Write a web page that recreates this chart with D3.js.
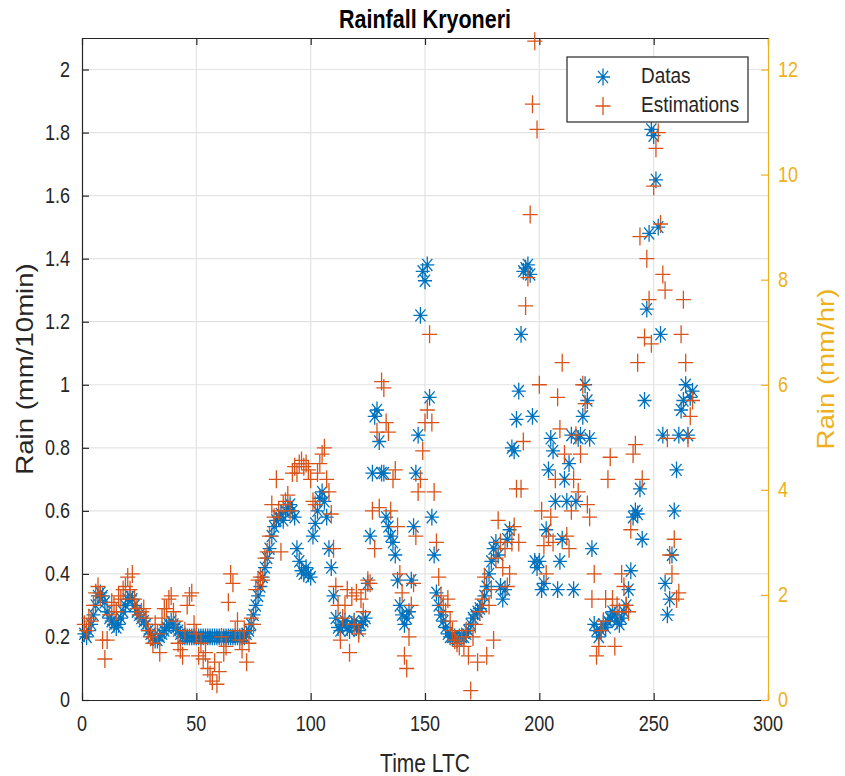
<!DOCTYPE html>
<html lang="en">
<head>
<meta charset="utf-8">
<title>Rainfall Kryoneri</title>
<script src="https://d3js.org/d3.v7.min.js"></script>
<style>
  body { margin: 0; background: #fff; }
  text { font-family: "Liberation Sans", Arial, sans-serif; fill: #262626; }
</style>
</head>
<body>
<script>
// time steps start at 1, one value per step
var firstStep = 1;

// Datas (mm/10min)
var datas = [
  0.21,0.20,0.22,0.24,0.27,0.30,0.33,0.34,0.33,0.31,
  0.28,0.26,0.25,0.24,0.23,0.24,0.26,0.28,0.30,0.32,
  0.33,0.32,0.30,0.28,0.27,0.26,0.25,0.24,0.22,0.21,
  0.20,0.19,0.19,0.20,0.21,0.22,0.23,0.24,0.25,0.24,
  0.23,0.22,0.21,0.20,0.20,0.20,0.20,0.20,0.20,0.20,
  0.20,0.20,0.20,0.20,0.20,0.20,0.20,0.20,0.20,0.20,
  0.20,0.20,0.20,0.20,0.20,0.20,0.20,0.20,0.20,0.20,
  0.20,0.21,0.22,0.24,0.27,0.30,0.33,0.36,0.39,0.42,
  0.45,0.48,0.52,0.55,0.57,0.58,0.59,0.57,0.60,0.61,
  0.62,0.60,0.58,0.48,0.44,0.41,0.40,0.42,0.40,0.39,
  0.52,0.56,0.60,0.64,0.66,0.63,0.58,0.48,0.42,0.33,
  0.26,0.23,0.22,0.24,0.25,0.23,0.22,0.24,0.25,0.23,
  0.22,0.24,0.25,0.26,0.37,0.52,0.72,0.90,0.92,0.82,
  0.72,0.72,0.58,0.55,0.52,0.50,0.46,0.38,0.30,0.27,
  0.24,0.26,0.28,0.38,0.55,0.72,0.84,1.22,1.36,1.33,
  1.38,0.96,0.58,0.46,0.34,0.30,0.27,0.25,0.23,0.21,
  0.20,0.20,0.20,0.19,0.20,0.20,0.20,0.21,0.22,0.24,
  0.26,0.27,0.28,0.29,0.30,0.33,0.36,0.40,0.44,0.48,
  0.50,0.46,0.36,0.32,0.35,0.51,0.54,0.80,0.79,0.89,
  0.98,1.16,1.36,1.37,1.38,1.35,0.90,0.44,0.42,0.44,
  0.35,0.37,0.54,0.73,0.83,0.79,0.63,0.35,0.44,0.51,
  0.70,0.63,0.75,0.84,0.35,0.63,0.83,0.84,0.90,1.00,
  0.95,0.83,0.48,0.24,0.22,0.20,0.22,0.24,0.23,0.25,
  0.26,0.28,0.27,0.25,0.24,0.26,0.28,0.30,0.35,0.41,
  0.58,0.60,0.59,0.67,0.51,0.95,1.24,1.48,1.81,1.79,
  1.65,1.50,1.16,0.84,0.37,0.27,0.32,0.46,0.60,0.73,
  0.84,0.92,0.95,1.00,0.84,0.96,0.98
];

// Estimations (mm/10min)
var estimations = [
  0.24,0.22,0.26,0.25,0.30,0.34,0.36,0.33,0.19,0.13,
  0.19,0.27,0.31,0.30,0.28,0.33,0.32,0.35,0.36,0.39,
  0.35,0.40,0.32,0.29,0.27,0.28,0.29,0.26,0.22,0.20,
  0.18,0.24,0.21,0.15,0.26,0.29,0.29,0.32,0.33,0.28,
  0.25,0.18,0.16,0.14,0.22,0.30,0.33,0.34,0.24,0.21,
  0.14,0.18,0.13,0.15,0.10,0.08,0.06,0.12,0.05,0.09,
  0.20,0.15,0.17,0.31,0.40,0.37,0.22,0.25,0.19,0.16,
  0.22,0.12,0.18,0.26,0.24,0.35,0.38,0.39,0.38,0.45,
  0.47,0.52,0.62,0.58,0.70,0.60,0.47,0.62,0.63,0.65,
  0.60,0.72,0.74,0.72,0.75,0.76,0.74,0.75,0.73,0.70,
  0.63,0.62,0.72,0.75,0.78,0.80,0.70,0.66,0.59,0.48,
  0.36,0.30,0.19,0.26,0.30,0.35,0.15,0.33,0.24,0.34,
  0.21,0.32,0.28,0.35,0.38,0.37,0.60,0.48,0.85,0.61,
  1.01,0.99,0.88,0.85,0.60,0.70,0.73,0.55,0.40,0.34,
  0.14,0.10,0.20,0.30,0.37,0.52,0.66,0.70,0.79,0.88,
  0.92,1.16,0.88,0.66,0.50,0.39,0.33,0.30,0.28,0.32,
  0.25,0.22,0.19,0.18,0.17,0.20,0.17,0.22,0.14,0.03,
  0.20,0.24,0.12,0.28,0.32,0.39,0.14,0.30,0.35,0.19,
  0.45,0.57,0.50,0.42,0.48,0.36,0.40,0.50,0.55,0.67,
  0.50,0.67,0.82,1.25,1.34,1.54,1.89,2.09,1.81,1.00,
  0.60,0.49,0.40,0.52,0.58,0.50,0.70,0.96,0.86,1.07,
  0.78,0.52,0.48,0.60,0.70,0.84,0.66,0.78,1.00,0.94,
  0.62,0.58,0.32,0.40,0.14,0.17,0.22,0.25,0.32,0.70,
  0.77,0.32,0.17,0.30,0.28,0.40,0.36,0.30,0.28,0.54,
  0.78,0.81,1.07,1.47,0.70,1.15,1.40,1.27,1.13,1.63,
  1.75,1.80,1.51,1.35,1.30,0.83,0.46,0.40,0.51,0.32,
  0.34,1.16,1.27,1.07,0.83,0.90,0.95
];

var xTicks = [0, 50, 100, 150, 200, 250, 300];
var yTicks = [0, 0.2, 0.4, 0.6, 0.8, 1, 1.2, 1.4, 1.6, 1.8, 2];
var yRightTicks = [0, 2, 4, 6, 8, 10, 12];

var W = 845, H = 776;
var plotL = 82, plotR = 768, plotT = 38, plotB = 700;
var stretch = 1.2;   // the picture is taller than wide, text too
var blue = "#0072BD", orange = "#D95319", gold = "#EDB120", ink = "#262626";

var svg = d3.select("body").append("svg")
  .attr("width", W).attr("height", H);

var x = d3.scaleLinear().domain([0, 300]).range([plotL, plotR]);
var y = d3.scaleLinear().domain([0, 2.1]).range([plotB, plotT]);
var yR = d3.scaleLinear().domain([0, 12.6]).range([plotB, plotT]);

function label(txt, px, py, size, anchor, color, bold) {
  return svg.append("text")
    .attr("transform", "translate(" + px + "," + py + ") scale(1," + stretch + ")")
    .attr("text-anchor", anchor)
    .style("font-size", size + "px")
    .style("font-weight", bold ? "bold" : "normal")
    .style("fill", color || ink)
    .text(txt);
}

// grid
svg.append("g").selectAll("line").data(xTicks.slice(1, -1)).enter().append("line")
  .attr("x1", d => x(d)).attr("x2", d => x(d))
  .attr("y1", plotT).attr("y2", plotB)
  .attr("stroke", "#e3e3e3").attr("stroke-width", 1.2);
svg.append("g").selectAll("line").data(yTicks.slice(1)).enter().append("line")
  .attr("x1", plotL).attr("x2", plotR)
  .attr("y1", d => y(d)).attr("y2", d => y(d))
  .attr("stroke", "#e3e3e3").attr("stroke-width", 1.2);

// axes (ticks pointing inward)
function styleAxis(g, color) {
  g.selectAll("path, line").attr("stroke", color).attr("stroke-width", 1.2);
  g.selectAll("text").remove();
}
svg.append("g").attr("transform", "translate(0," + plotB + ")")
  .call(d3.axisBottom(x).tickValues(xTicks).tickSize(-7).tickSizeOuter(0))
  .call(g => styleAxis(g, ink));
svg.append("g").attr("transform", "translate(0," + plotT + ")")
  .call(d3.axisTop(x).tickValues(xTicks).tickSize(-7).tickSizeOuter(0))
  .call(g => styleAxis(g, ink));
svg.append("g").attr("transform", "translate(" + plotL + ",0)")
  .call(d3.axisLeft(y).tickValues(yTicks).tickSize(-7).tickSizeOuter(0))
  .call(g => styleAxis(g, ink));
svg.append("g").attr("transform", "translate(" + plotR + ",0)")
  .call(d3.axisRight(yR).tickValues(yRightTicks).tickSize(-7).tickSizeOuter(0))
  .call(g => styleAxis(g, gold));

// tick labels
xTicks.forEach(function (t) { label(String(t), x(t), plotB + 31, 18, "middle"); });
yTicks.forEach(function (t) { label(String(+t.toFixed(1)), plotL - 12, y(t) + 7, 18, "end"); });
yRightTicks.forEach(function (t) { label(String(t), plotR + 10, yR(t) + 7, 18, "start", gold); });

// titles
label("Rainfall Kryoneri", (plotL + plotR) / 2, 28, 21.5, "middle", "#000", true);
label("Time LTC", (plotL + plotR) / 2, 772, 21, "middle");
svg.append("text")
  .attr("transform", "translate(33," + ((plotT + plotB) / 2) + ") rotate(-90) scale(" + stretch + ",1)")
  .attr("text-anchor", "middle").style("font-size", "23px").text("Rain (mm/10min)");
svg.append("text")
  .attr("transform", "translate(834," + ((plotT + plotB) / 2) + ") rotate(-90) scale(" + stretch + ",1)")
  .attr("text-anchor", "middle").style("font-size", "23px").style("fill", gold).text("Rain (mm/hr)");

// markers
function asterisk(r) {
  var d = r * 0.72, v = r * stretch, dv = d * stretch;
  return "M" + (-r) + ",0H" + r + "M0," + (-v) + "V" + v +
    "M" + (-d) + "," + (-dv) + "L" + d + "," + dv +
    "M" + (-d) + "," + dv + "L" + d + "," + (-dv);
}
function plus(r) {
  return "M" + (-r) + ",0H" + r + "M0," + (-r * stretch) + "V" + (r * stretch);
}

svg.append("g").selectAll("path").data(datas).enter().append("path")
  .attr("transform", (d, i) => "translate(" + x(firstStep + i) + "," + y(d) + ")")
  .attr("d", asterisk(7))
  .attr("fill", "none").attr("stroke", blue).attr("stroke-width", 1.3);

svg.append("g").selectAll("path").data(estimations).enter().append("path")
  .attr("transform", (d, i) => "translate(" + x(firstStep + i) + "," + y(d) + ")")
  .attr("d", plus(7.5))
  .attr("fill", "none").attr("stroke", orange).attr("stroke-width", 1.3);

// legend
var lg = svg.append("g");
lg.append("rect").attr("x", 567).attr("y", 57).attr("width", 181).attr("height", 65)
  .attr("fill", "#fff").attr("stroke", ink).attr("stroke-width", 1.2);
lg.append("path").attr("transform", "translate(603,77)").attr("d", asterisk(7))
  .attr("fill", "none").attr("stroke", blue).attr("stroke-width", 1.3);
lg.append("path").attr("transform", "translate(603,106)").attr("d", plus(7.5))
  .attr("fill", "none").attr("stroke", orange).attr("stroke-width", 1.3);
label("Datas", 641, 83, 19, "start");
label("Estimations", 641, 112, 19, "start");
</script>
</body>
</html>
